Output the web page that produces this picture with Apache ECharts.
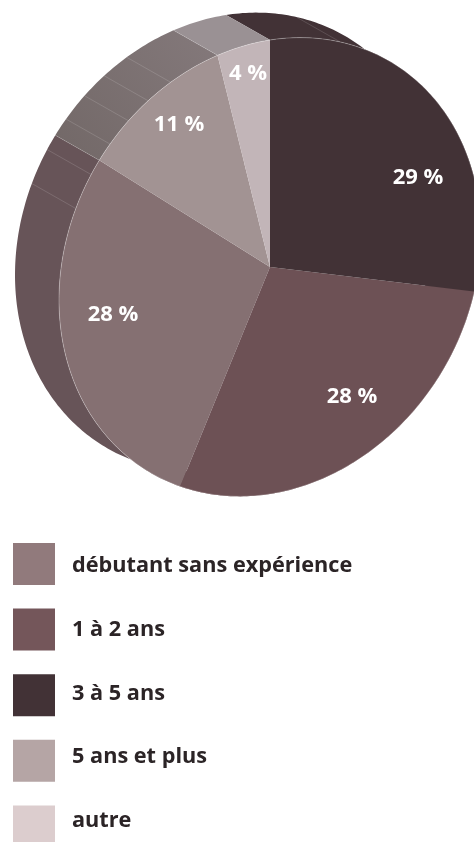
<!DOCTYPE html>
<html>
<head>
<meta charset="utf-8">
<style>
    html, body { margin: 0; padding: 0; background: #fff; }
    #chart { width: 474px; height: 842px; overflow: hidden; }
</style>
<script src="https://cdn.jsdelivr.net/npm/echarts@6/dist/echarts.min.js"></script>
</head>
<body>
<div id="chart"></div>
<script>
// legend order
const categories = ["débutant sans expérience", "1 à 2 ans", "3 à 5 ans", "5 ans et plus", "autre"]
const shares = [28, 28, 29, 11, 4]
// clockwise from 12 o'clock
const sliceOrder = [2, 1, 0, 3, 4]

const faceColors = ["#857072", "#6d5155", "#423236", "#a29393", "#c2b5b8"]
const wallColors = ["#675458", "#6d5155", "#423236", "#7a7071", "#9a9194"]
const swatchColors = ["#917a7c", "#74565a", "#423236", "#b5a5a5", "#dccdce"]

// facet lines on the side wall, as % of the way round
const wallFacets = [5.4, 81.4, 83.9, 86.3, 88.3, 90.2, 92.2]
const labelPositions = [[418, 178], [352, 397], [113, 315], [179, 125], [248, 74]]
// the legend texts sit a little closer together than the swatches: [top, bottom] padding
const legendTextPadding = [[4, 0], [0, 0], [0, 2], [0, 8], [0, 12]]

// the pie is a sheared circle, the wall is the same outline swept up and left
const center = [270, 267]
const shearX = 211
const shearXY = -33
const shearY = 227
const depth = [-44, -25]

const total = shares.reduce((a, b) => a + b, 0)

function rimPoint(pct, offset){
    let t = (pct / 100 - 0.25) * 2 * Math.PI
    let X = Math.cos(t)
    let Y = Math.sin(t)
    let dx = offset ? depth[0] : 0
    let dy = offset ? depth[1] : 0
    return [center[0] + shearX * X + dx, center[1] + shearXY * X + shearY * Y + dy]
}

function rimArc(from, to, offset){
    let pts = []
    let steps = Math.ceil((to - from) * 4)
    for (let i = 0; i <= steps; i++){
        pts.push(rimPoint(from + (to - from) * i / steps, offset))
    }
    return pts
}

function sliceRange(catIndex){
    let start = 0
    for (let i = 0; i < sliceOrder.length; i++){
        let idx = sliceOrder[i]
        if (idx === catIndex){
            return [start / total * 100, (start + shares[idx]) / total * 100]
        }
        start += shares[idx]
    }
}

function renderWall(params){
    let cat = params.seriesIndex
    let range = sliceRange(cat)
    let front = rimArc(range[0], range[1], false)
    let back = rimArc(range[0], range[1], true).reverse()
    let fill = wallColors[cat]
    if (cat === 3){
        fill = new echarts.graphic.LinearGradient(0, 1, 1, 0, [
            { offset: 0, color: "#726867" },
            { offset: 1, color: "#84797b" }
        ])
    }
    let children = [{
        type: "polygon",
        shape: { points: front.concat(back) },
        style: { fill: fill }
    }]
    wallFacets.concat(range[0]).forEach(pct => {
        if (pct >= range[0] && pct < range[1]){
            children.push({
                type: "line",
                shape: {
                    x1: rimPoint(pct, false)[0], y1: rimPoint(pct, false)[1],
                    x2: rimPoint(pct, true)[0], y2: rimPoint(pct, true)[1]
                },
                style: { stroke: "rgba(255,255,255,0.2)", lineWidth: 0.7 }
            })
        }
    })
    return { type: "group", children: children }
}

function renderFace(params, api){
    let cat = params.seriesIndex - categories.length
    let range = sliceRange(cat)
    let arc = rimArc(range[0], range[1], false)
    let pos = labelPositions[sliceOrder.indexOf(cat)]
    return {
        type: "group",
        children: [{
            type: "polygon",
            shape: { points: [center].concat(arc) },
            style: { fill: faceColors[cat] }
        }, {
            type: "polyline",
            shape: { points: arc },
            style: { stroke: "rgba(255,255,255,0.4)", lineWidth: 0.7, fill: null }
        }, {
            type: "text",
            x: pos[0],
            y: pos[1],
            style: {
                text: api.value(0) + " %",
                fill: "#fff",
                font: "700 22px 'Open Sans'",
                align: "center",
                verticalAlign: "middle"
            }
        }]
    }
}

let series = []
categories.forEach((name, i) => {
    series.push({
        type: "custom",
        name: "paroi " + name,
        coordinateSystem: "none",
        renderItem: renderWall,
        data: [[shares[i]]],
        silent: true,
        z: 1
    })
})
categories.forEach((name, i) => {
    series.push({
        type: "custom",
        name: name,
        coordinateSystem: "none",
        renderItem: renderFace,
        data: [[shares[i]]],
        itemStyle: { color: swatchColors[i] },
        silent: true,
        z: 2
    })
})

let legendRich = {}
legendTextPadding.forEach((p, i) => {
    legendRich["l" + i] = {
        color: "#2b2426",
        fontFamily: "Open Sans",
        fontWeight: 700,
        fontSize: 21.7,
        padding: [p[0], 0, p[1], 0]
    }
})

let myChart = echarts.init(document.getElementById("chart"), null, { renderer: "canvas" })
myChart.setOption({
    animation: false,
    legend: {
        orient: "vertical",
        left: 13,
        top: 543,
        height: 400,
        padding: 0,
        itemWidth: 42,
        itemHeight: 42,
        itemGap: 23.6,
        selectedMode: false,
        icon: "rect",
        data: categories.map((name, i) => ({
            name: name,
            itemStyle: { color: swatchColors[i] }
        })),
        formatter: name => "{l" + categories.indexOf(name) + "|" + name + "}",
        textStyle: {
            color: "#2b2426",
            fontFamily: "Open Sans",
            fontWeight: 700,
            fontSize: 21.7,
            padding: [0, 0, 0, 12],
            rich: legendRich
        }
    },
    series: series
})
</script>
</body>
</html>
